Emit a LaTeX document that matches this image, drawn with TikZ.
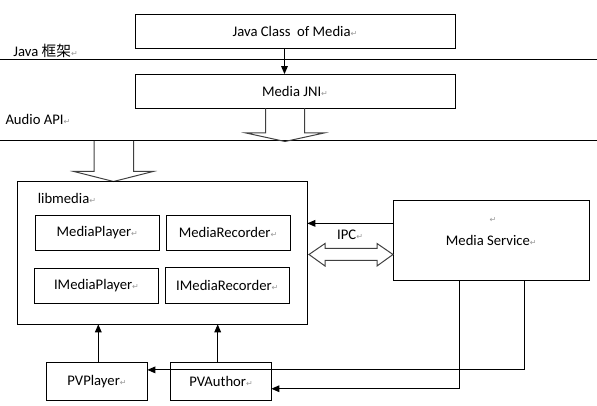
\documentclass[tikz,border=0pt]{standalone}
\usepackage{fontspec}
\setmainfont{Carlito}
\newfontfamily\cjk{Noto Sans CJK SC}
\newfontfamily\symfont{DejaVu Sans}
\usetikzlibrary{arrows.meta,calc}

\newcommand{\retmark}{{\symfont\fontsize{6}{6}\selectfont\textcolor{black!40}{↵}}}

\tikzset{every picture/.style={line width=0.75pt},
  box/.style={draw, inner sep=0pt, outer sep=0pt, font=\fontsize{11}{13}\selectfont},
  lbl/.style={inner sep=0pt, font=\fontsize{11}{13}\selectfont},
  arr/.style={-{Triangle[length=6pt,width=5pt]}},
  hollow/.style={draw=black!75, line join=miter}}

\begin{document}
\begin{tikzpicture}[x=0.75pt,y=0.75pt,yscale=-1,xscale=1]
	%set diagram left start at 0, and has height of 406
	\useasboundingbox (0,0) rectangle (597,406);

	%Straight Lines [layer lines]
	\draw    (0,59.5) -- (597,59.5) ;
	\draw    (0,141) -- (597,141) ;

	% Java layer
	\node[box, minimum width=240pt, minimum height=25.5pt] (javacls) at (295,31.3) {Java Class\ \ of Media\retmark};
	\node[lbl, anchor=base west] (javafw) at (13,56.5) {Java {\cjk 框架}\retmark};
	\node[box, minimum width=240pt, minimum height=25.7pt] (jni) at (295,91.2) {Media JNI\retmark};
	\node[lbl, anchor=base west] (audio) at (5,125) {Audio API\retmark};
	\draw[arr]    (javacls.south -| 284.5,0) -- (jni.north -| 284.5,0) ;

	%Shape: hollow arrows down
	\draw[hollow]  (265.5,108.3) -- (265.5,133) -- (246,133) -- (285,141.5) -- (324,133) -- (304.5,133) -- (304.5,108.3) ;
	\draw[hollow]  (94,141) -- (94,171.5) -- (74,171.5) -- (113.5,181.5) -- (153,171.5) -- (133.5,171.5) -- (133.5,141) ;

	% libmedia
	\node[box, minimum width=217.5pt, minimum height=107pt] (lm) at (162.3,253) {};
	\node[lbl, anchor=base west] (lmtitle) at (37.3,204) {libmedia\retmark};
	\node[box, minimum width=93pt, minimum height=26.8pt] (mp) at (97.3,232.9) {MediaPlayer\retmark};
	\node[box, minimum width=93pt, minimum height=26.8pt] (mr) at (228,232.9) {MediaRecorder\retmark};
	\node[box, minimum width=93pt, minimum height=26.3pt] (imp) at (96.5,285.8) {IMediaPlayer\retmark};
	\node[box, minimum width=93pt, minimum height=26.3pt] (imr) at (227.3,285.5) {IMediaRecorder\retmark};

	% Media Service
	\node[box, minimum width=147pt, minimum height=59.6pt] (ms) at (491.3,240.3) {Media Service\retmark};
	\node[lbl] (msmark) at (493,220) {\retmark};
	\path (ms.north west) ++(0,22.8) coordinate (msin);
	\draw[arr]    (msin) -- (msin -| lm.east) ;
	\node[lbl, anchor=base west] (ipc) at (336.7,240) {IPC\retmark};

	%Shape: double hollow arrow
	\draw[hollow]  (309,254.5) -- (325,243.5) -- (325,248.5) -- (377,248.5) -- (377,243.5) -- (393,254.5) -- (377,266) -- (377,260.5) -- (325,260.5) -- (325,266) -- cycle ;

	% PV nodes
	\node[box, minimum width=75.5pt, minimum height=28.3pt] (pvp) at (97,381.2) {PVPlayer\retmark};
	\node[box, minimum width=75.5pt, minimum height=28.3pt] (pva) at (221,381.2) {PVAuthor\retmark};
	\draw[arr]    (pvp.north -| 98.3,0) -- (lm.south -| 98.3,0) ;
	\draw[arr]    (pva.north -| 217.7,0) -- (lm.south -| 217.7,0) ;

	% service to PV
	\path (ms.south west) ++(131,0) coordinate (msA);
	\path (ms.south west) ++(66,0) coordinate (msB);
	\draw[arr]    (msA) |- ($(pvp.north east)!0.2!(pvp.south east)$) ;
	\draw[arr]    (msB) |- ($(pva.north east)!0.7!(pva.south east)$) ;

\end{tikzpicture}
\end{document}
